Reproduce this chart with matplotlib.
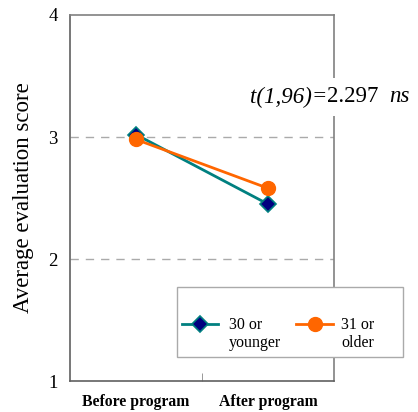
import matplotlib
matplotlib.use("Agg")
import matplotlib.pyplot as plt
from matplotlib.lines import Line2D
from matplotlib.patches import Rectangle
from matplotlib.ticker import FixedLocator

plt.rcParams["font.family"] = ["Liberation Serif", "DejaVu Serif"]

# Data
phases = ["Before program", "After program"]
young = [3.02, 2.45]
older = [2.98, 2.58]
series_labels = ["30 or\nyounger", "31 or\nolder"]
stat_parts = [("t(1,96)=", "italic"), ("2.297  ", "normal"), ("ns", "italic")]

W, H = 418, 412
fig = plt.figure(figsize=(W / 100, H / 100), dpi=100)
ax = fig.add_axes([0.1675, 0.0752, 0.6315, 0.8884])

line_colors = ["#008080", "#FF6600"]
marker_styles = [
    dict(marker="D", ms=8, mfc="#000080", mec="#008080", mew=1.2),
    dict(marker="o", ms=10, mfc="#FF6600", mec="#FF6600"),
]

x = list(range(len(phases)))
for vals, col, mk, lab in zip([young, older], line_colors, marker_styles, series_labels):
    ax.plot(x, vals, lw=2, color=col, label=lab, zorder=3, **mk)

ax.set_xlim(-0.5, 1.5)
ax.set_ylim(1, 4)
ax.set_yticks([1, 2, 3, 4])
for yv in [2, 3]:
    ax.axhline(yv, color="#aaaaaa", lw=1, ls=(0, (6, 5)), zorder=1)

ax.set_xticks(x)
ax.set_xticklabels(phases, fontsize=11.3, fontweight="bold")
ax.xaxis.set_minor_locator(FixedLocator([0.5]))
ax.tick_params(axis="x", which="major", length=0, pad=9)
ax.tick_params(axis="x", which="minor", direction="in", length=6, color="#888888")
ax.tick_params(axis="y", length=0, labelsize=13.5, pad=9)

for s in ax.spines.values():
    s.set_color("#808080")
    s.set_linewidth(1.2)
ax.spines["left"].set_color("#606060")
ax.spines["bottom"].set_color("#606060")

ax.set_ylabel("Average evaluation score", fontsize=16.5, labelpad=10)

# Statistic annotation: pieces chained left to right; the middle piece carries
# a white box that interrupts the right spine
prev = None
for i, (txt, style) in enumerate(stat_parts):
    kw = dict(fontsize=16.5, style=style, va="center", zorder=6 if i != 1 else 5)
    if i == 1:
        kw["bbox"] = dict(facecolor="white", edgecolor="none", pad=6)
    if prev is None:
        prev = ax.text(0.68, 0.776, txt, transform=ax.transAxes, ha="left", **kw)
    else:
        prev = ax.annotate(txt, xy=(1, 0.5), xycoords=prev, ha="left", **kw)


# Legend box laid out in figure pixels
def fx(px):
    return px / W


def fy(py):
    return 1 - py / H


fig.add_artist(Rectangle((fx(177), fy(357)), fx(403) - fx(177), fy(287) - fy(357),
                         transform=fig.transFigure, facecolor="white",
                         edgecolor="#aaaaaa", lw=1, zorder=10))
entries = [(182, 218, 229), (296, 333, 341)]
for (x0, x1, tx), col, mk, lab in zip(entries, line_colors, marker_styles, series_labels):
    fig.add_artist(Line2D([fx(x0), fx(x1)], [fy(324), fy(324)], lw=2, color=col,
                          transform=fig.transFigure, zorder=11))
    fig.add_artist(Line2D([fx((x0 + x1) / 2)], [fy(324)], lw=0,
                          transform=fig.transFigure, zorder=12, **mk))
    fig.text(fx(tx), fy(334), lab, fontsize=11.5, ha="left", va="center",
             multialignment="left", linespacing=1.15, zorder=12)

fig.savefig("out.png", dpi=100)
